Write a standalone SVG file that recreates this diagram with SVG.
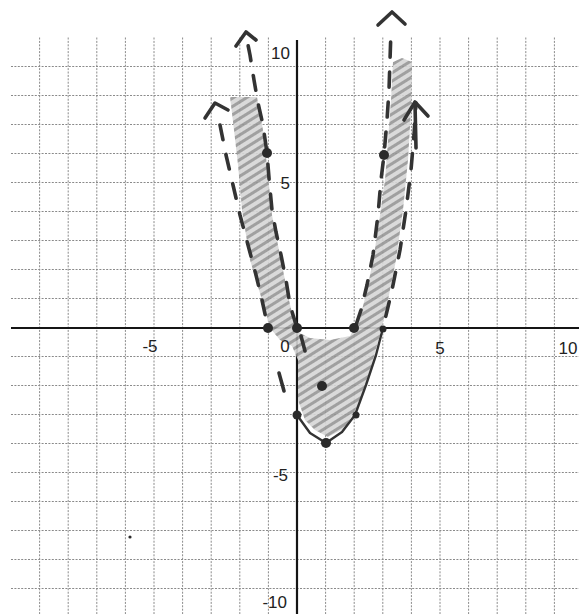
<svg xmlns="http://www.w3.org/2000/svg" width="579" height="614" viewBox="0 0 579 614">
<style>
.grid{stroke:#8a8a8a;stroke-width:1;stroke-dasharray:2 1.4;fill:none}
.axis{stroke:#151515;stroke-width:2.2;fill:none}
.lbl{font-family:"Liberation Sans",Arial,sans-serif;font-size:17px;fill:#222}
.dash{fill:none;stroke:#333;stroke-width:3.6;stroke-linecap:round;stroke-linejoin:round;stroke-dasharray:15 15}
.solid{fill:none;stroke:#333;stroke-width:2.4;stroke-linecap:round;stroke-linejoin:round}
.arr{fill:none;stroke:#333;stroke-width:3.6;stroke-linecap:round;stroke-linejoin:round}
.dot{fill:#2a2a2a}
</style>
<defs>
<pattern id="hatch" width="9" height="7" patternUnits="userSpaceOnUse" patternTransform="rotate(-32)">
<rect width="9" height="7" fill="#d6d6d6"/>
<line x1="0" y1="3.5" x2="9" y2="3.5" stroke="#959595" stroke-width="3"/>
</pattern>
</defs>
<rect width="579" height="614" fill="#fff"/>
<g id="grid">
<path class="grid" d="M39.6 37.5V614M68.2 37.5V614M96.8 37.5V614M125.4 37.5V614M154 37.5V614M182.6 37.5V614M211.2 37.5V614M239.8 37.5V614M268.4 37.5V614M325.6 37.5V614M354.2 37.5V614M382.8 37.5V614M411.4 37.5V614M440 37.5V614M468.6 37.5V614M497.2 37.5V614M525.8 37.5V614M554.4 37.5V614"/>
<path class="grid" d="M11 66.5H579M11 95.5H579M11 124.5H579M11 153.5H579M11 182.5H579M11 211.5H579M11 240.5H579M11 269.5H579M11 298.5H579M11 356.5H579M11 385.5H579M11 414.5H579M11 443.5H579M11 472.5H579M11 501.5H579M11 530.5H579M11 559.5H579M11 588.5H579"/>
</g>
<g id="axes">
<line class="axis" x1="11" y1="328" x2="579" y2="328"/>
<line class="axis" x1="297" y1="40" x2="297" y2="614"/>
</g>
<g id="shading">
<path fill="url(#hatch)" opacity="0.9" d="M230 97L234 130L238 165L242 210L250 260L262 300L270 328L280 340L292 346L298 360L298 400L305 420L315 430L328 437L345 428L358 405L370 370L380 335L388 300L396 260L403 210L408 160L411 110L412 62L402 58L393 62L391 100L388 140L385 180L380 215L374 255L367 290L360 318L350 336L330 340L310 338L300 333L296 330L289 300L281 260L272 215L268 175L263 130L257 97Z"/>
</g>
<g id="labels">
<text class="lbl" x="290" y="59" text-anchor="end">10</text>
<text class="lbl" x="290" y="189" text-anchor="end">5</text>
<text class="lbl" x="288" y="481" text-anchor="end">-5</text>
<text class="lbl" x="287" y="608" text-anchor="end">-10</text>
<text class="lbl" x="150" y="352" text-anchor="middle">-5</text>
<text class="lbl" x="285" y="352" text-anchor="middle">0</text>
<text class="lbl" x="440" y="354" text-anchor="middle">5</text>
<text class="lbl" x="568" y="354" text-anchor="middle">10</text>
</g>
<g id="outer-curve">
<polyline class="dash" points="220,125 226,155 233,185 240,215 248,245 256,275 262,300 268,328"/>
<line class="arr" x1="279" y1="373" x2="284" y2="391"/>
<polyline class="solid" points="297,415 310,433 326,443 342,432 355,415 366,385 376,355 383,328"/>
<polyline class="dash" style="stroke-dashoffset:-12" points="383,328 392,290 400,250 406,210 411,170 414,135 416,103"/>
<polyline class="arr" points="415,104 416,148"/>
<polyline class="arr" points="205,118 215,103 228,110"/>
<polyline class="arr" points="404,120 415,102 428,116"/>
</g>
<g id="inner-curve">
<polyline class="dash" style="stroke-dashoffset:-6" points="247,40 250,55 254,80 258,103 263,125 267,153 269,178 272,210 276,232 281,255 286,280 290,305 297,328"/>
<line class="arr" x1="301" y1="336" x2="305" y2="351"/>
<polyline class="dash" style="stroke-dashoffset:-4" points="355,328 361,310 367,285 373,255 378,215 381,180 384,155 387,120 389,90 390,60 391,30"/>
<polyline class="arr" points="236,46 246,32 256,40"/>
<polyline class="arr" points="378,25 392,12 405,24"/>
</g>
<g id="points">
<circle class="dot" cx="267" cy="153" r="5"/>
<circle class="dot" cx="384" cy="155" r="5"/>
<circle class="dot" cx="268" cy="328" r="5"/>
<circle class="dot" cx="297" cy="328" r="5"/>
<circle class="dot" cx="354" cy="328" r="5"/>
<circle class="dot" cx="383" cy="329" r="3.5"/>
<circle class="dot" cx="322" cy="386" r="5"/>
<circle class="dot" cx="297" cy="415" r="4.5"/>
<circle class="dot" cx="356" cy="415" r="3.5"/>
<circle class="dot" cx="326" cy="443" r="5"/>
<circle class="dot" cx="130" cy="537" r="1.6"/>
</g>
</svg>
